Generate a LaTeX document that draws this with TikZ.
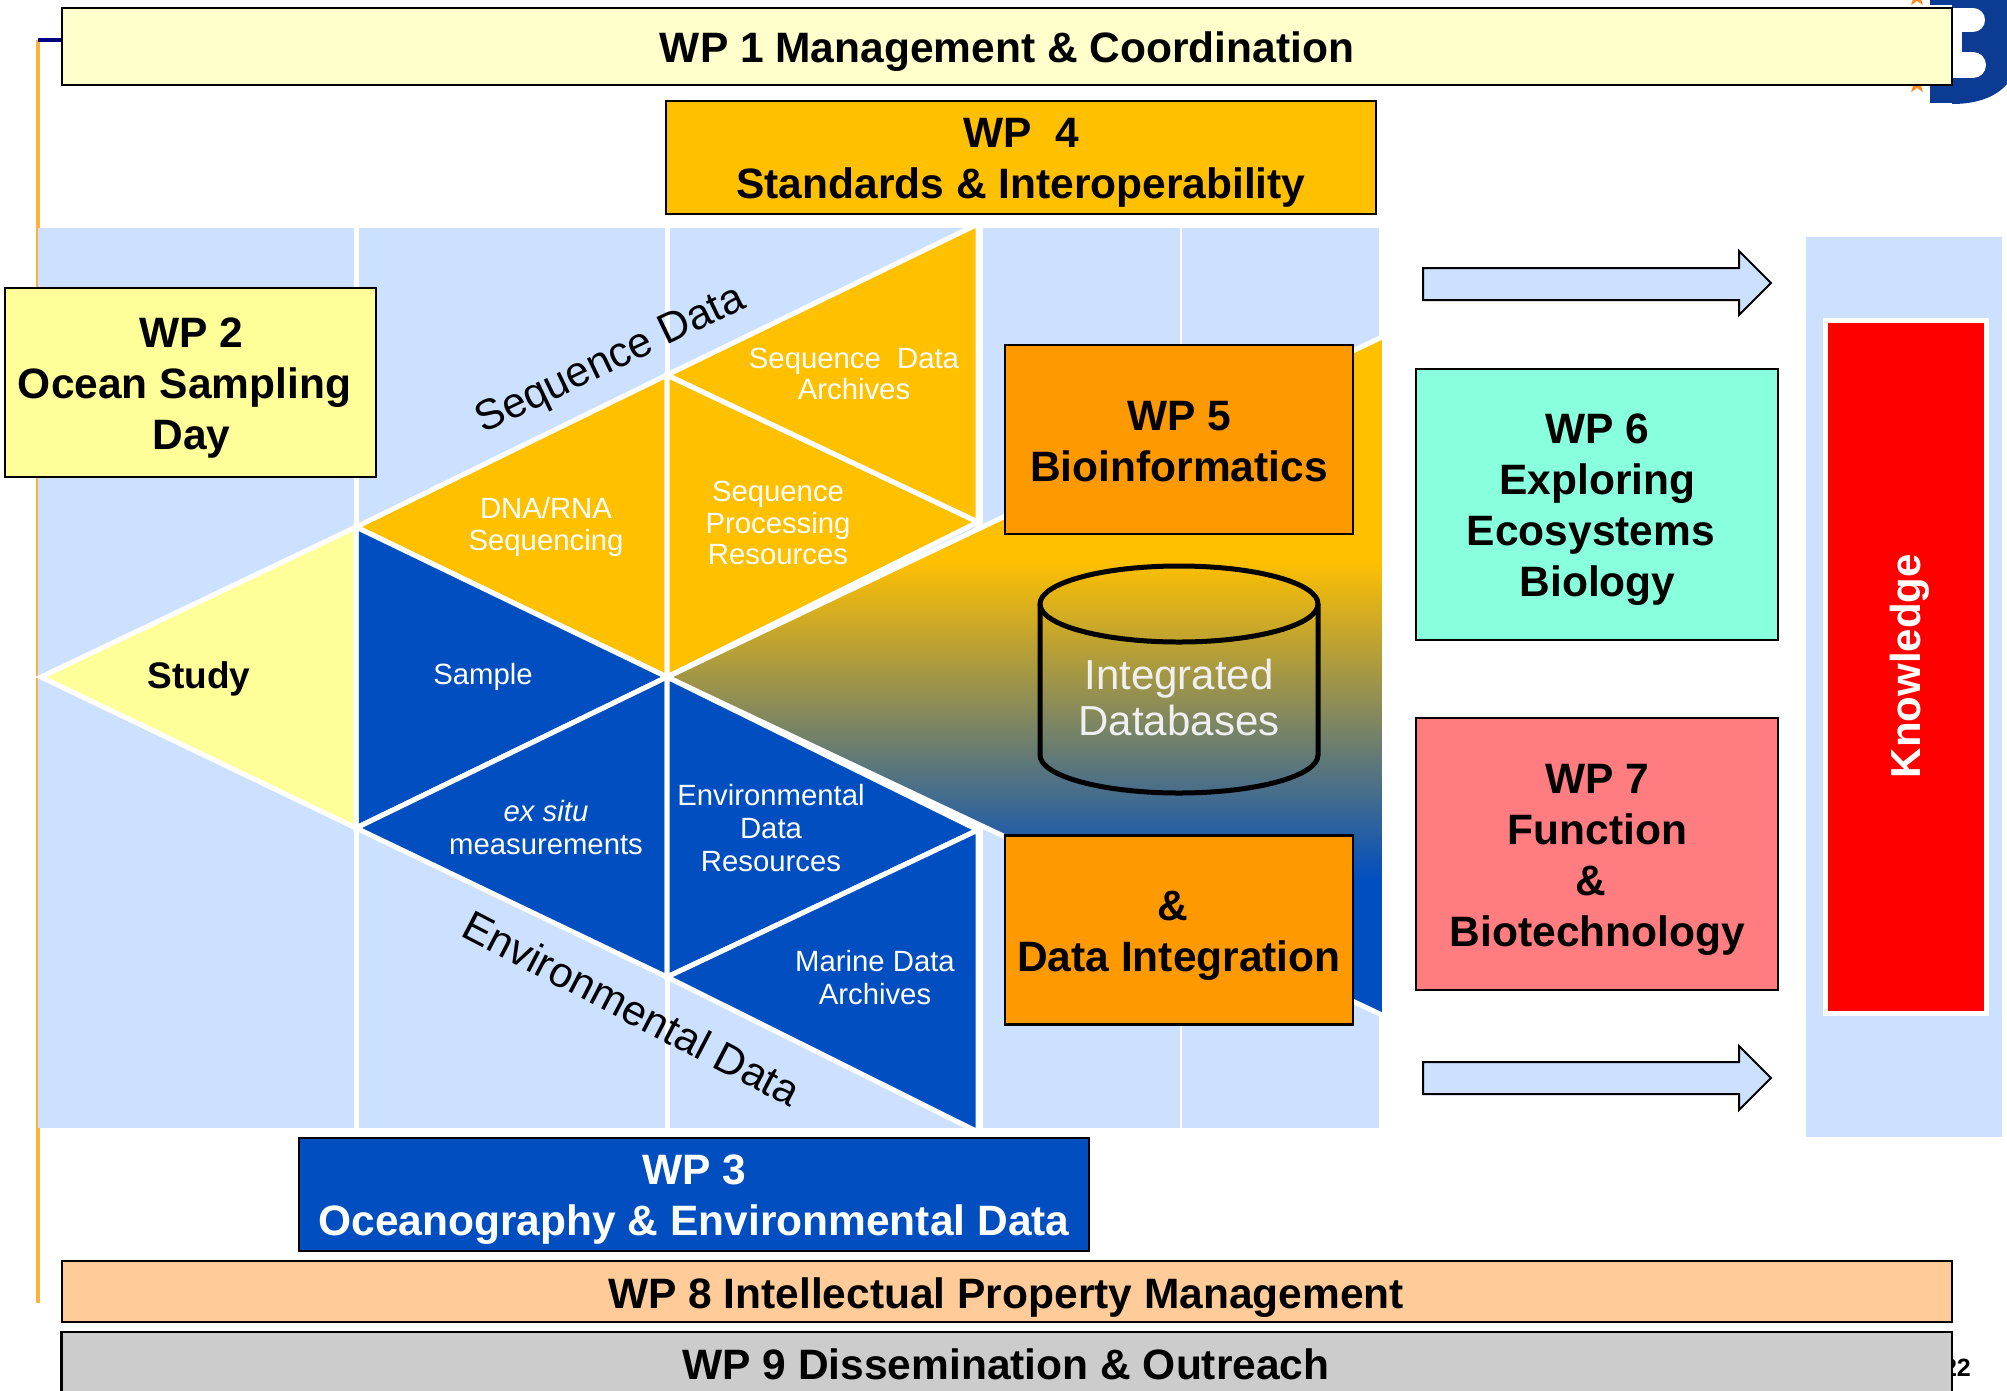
\documentclass[tikz,border=0pt]{standalone}
\usepackage{fontspec}
\setmainfont{Liberation Sans}
\definecolor{bgblue}{HTML}{CCE0FF}
\definecolor{wpyellow}{HTML}{FFFF99}
\definecolor{wppale}{HTML}{FFFFCC}
\definecolor{wpgold}{HTML}{FFC000}
\definecolor{wporange}{HTML}{FF9900}
\definecolor{wpteal}{HTML}{88FFDD}
\definecolor{wppink}{HTML}{FF7C80}
\definecolor{wppeach}{HTML}{FFCC99}
\definecolor{wpgrey}{HTML}{CCCCCC}
\definecolor{wpblue}{HTML}{004EC0}
\definecolor{logoblue}{HTML}{0B3B92}
\definecolor{linegold}{HTML}{FBB040}
\definecolor{navyline}{HTML}{000080}
\definecolor{staror}{HTML}{FF8A1E}
\tikzset{
  wpbox/.style={draw=black,line width=2.5pt,inner sep=0pt},
  wptext/.style={inner sep=0pt,align=center,font=\fontsize{42.5}{51}\selectfont\bfseries},
  tri/.style={draw=white,line width=5pt,line join=miter},
  tlabel/.style={inner sep=0pt,align=center,text=white,font=\fontsize{29.3}{31.5}\selectfont},
  sidelabel/.style={inner sep=0pt,align=center,font=\fontsize{42.5}{49}\selectfont},
  blockarrow/.style={draw=black,line width=2pt,fill=bgblue,line join=miter},
  logostar/.pic={\fill[staror] (0,-10) -- (2.4,-3.2) -- (9.5,-3.1) -- (3.8,1.2) -- (5.9,8.1) -- (0,4) -- (-5.9,8.1) -- (-3.8,1.2) -- (-9.5,-3.1) -- (-2.4,-3.2) -- cycle;},
}
\begin{document}
\begin{tikzpicture}[x=1pt,y=-1pt]
\useasboundingbox (0,0) rectangle (2007,1390);
\clip (0,0) rectangle (2007,1390);
% logo behind the boxes
\fill[logoblue] (1930,0) rectangle (2007,5);
\fill[logoblue] (1930,85) rectangle (1952,103);
\fill[logoblue] (1952,0) -- (2007,0) -- (2007,84) .. controls (1995,98) and (1975,104) .. (1952,104) -- cycle;
\draw[white,line width=24pt,line cap=round] (1958,20) -- (1973,20);
\draw[white,line width=26pt,line cap=round] (1958,65) -- (1973,65);
\fill[white] (1952,8) rectangle (1962,78);
\pic at (1917,-3) {logostar};
\pic at (1917,84) {logostar};
\node[inner sep=0pt,anchor=east,font=\fontsize{25}{30}\selectfont\bfseries] (pagenum) at (1971,1368) {22};
% rule lines
\fill[linegold] (36,40) rectangle (40,1303);
\fill[navyline] (38,38) rectangle (61,42);
% background columns
\fill[bgblue] (38,228) rectangle (1379,1128);
\fill[white] (353.5,220) rectangle (358.5,1135);
\fill[white] (664.5,220) rectangle (669.5,1135);
\fill[white] (975,220) rectangle (983,1135);
\fill[white] (1180,220) rectangle (1182,1135);
\fill[white] (1379,220) rectangle (1390,1135);
% gradient band
\begin{scope}
\clip (667,677) -- (1382,337) -- (1382,1015) -- cycle;
\fill[wpgold] (660,330) rectangle (1382,561);
\shade[top color=wpgold,bottom color=wpblue,shading angle=0] (660,560) rectangle (1382,880);
\fill[wpblue] (660,879) rectangle (1382,1020);
\end{scope}
\draw[white,line width=5pt] (667,677) -- (1382,337);
\draw[white,line width=5pt] (667,677) -- (1382,1015);
\fill[white] (1382,330) rectangle (1395,1025);
% triangles
\filldraw[tri,fill=wpgold] (356,527) -- (667,375) -- (667,677) -- cycle;
\filldraw[tri,fill=wpgold] (667,375) -- (978,522) -- (667,677) -- cycle;
\filldraw[tri,fill=wpgold] (667,375) -- (978,224) -- (978,522) -- cycle;
\filldraw[tri,fill=wpblue] (356,527) -- (667,677) -- (356,828) -- cycle;
\filldraw[tri,fill=wpblue] (356,828) -- (667,677) -- (667,977) -- cycle;
\filldraw[tri,fill=wpblue] (667,677) -- (978,830) -- (667,977) -- cycle;
\filldraw[tri,fill=wpblue] (667,977) -- (978,830) -- (978,1132) -- cycle;
\filldraw[tri,fill=wpyellow] (41,677) -- (356,527) -- (356,828) -- cycle;
% triangle labels
\node[inner sep=0pt,font=\fontsize{37}{44}\selectfont\bfseries] (study) at (199,679) {Study};
\node[tlabel] (dna) at (546,527) {DNA/RNA\\Sequencing};
\node[tlabel] (proc) at (778,523) {Sequence\\Processing\\Resources};
\node[tlabel] (arch) at (854,374) {Sequence\ \ Data\\Archives};
\node[tlabel] (sample) at (483,677) {Sample};
\node[tlabel,font=\fontsize{29.3}{33}\selectfont] (exsitu) at (546,828) {\itshape ex situ\\measurements};
\node[tlabel,font=\fontsize{29.3}{33}\selectfont] (env) at (771,828) {Environmental\\Data\\Resources};
\node[tlabel,font=\fontsize{29.3}{33}\selectfont] (marine) at (875,978) {Marine Data\\Archives};
\node[sidelabel,rotate=25.7] (seqdata) at (611,361) {Sequence Data};
\node[sidelabel,rotate=-27.5] (envdata) at (632,1008) {Environmental Data};
% cylinder
\draw[black,line width=5pt] (1040,604) -- (1040,755) arc[start angle=180,end angle=360,x radius=139,y radius=-38] -- (1318,604);
\draw[black,line width=5pt] (1179,604) ellipse[x radius=139,y radius=38];
\node[inner sep=0pt,align=center,text=white!94!black,font=\fontsize{42}{46}\selectfont] (intdb) at (1179,697) {Integrated\\Databases};
% boxes
\node[wpbox,fill=wppale,minimum width=1890pt,minimum height=77pt] (wp1) at (1007,46.5) {};
\node[wptext] (wp1t) at ([yshift=-5pt]wp1.center) {WP 1 Management \& Coordination};
\node[wpbox,fill=wpgold,minimum width=710pt,minimum height=113pt] (wp4) at (1021,157.5) {};
\node[wptext] (wp4t) at ([xshift=0pt,yshift=-5pt]wp4.center) {WP\ \ 4\\Standards \& Interoperability};
\node[wpbox,fill=wpyellow,minimum width=371pt,minimum height=189pt] (wp2) at (190.5,382.5) {};
\node[wptext] (wp2t) at ([xshift=1pt,yshift=-6pt]wp2.center) {WP 2\\Ocean Sampling\kern14pt\\Day};
\node[wpbox,fill=wporange,minimum width=348pt,minimum height=189pt] (wp5) at (1179,439.5) {};
\node[wptext] (wp5t) at ([xshift=0pt,yshift=-2.5pt]wp5.center) {WP 5\\Bioinformatics};
\node[wpbox,fill=wporange,minimum width=348pt,minimum height=189pt] (wpdi) at (1179,930) {};
\node[wptext] (wpdit) at ([xshift=0pt,yshift=-6pt]wpdi.center) {\&\kern13pt\\Data Integration};
\node[wpbox,fill=wpteal,minimum width=362pt,minimum height=271pt] (wp6) at (1597,504.5) {};
\node[wptext] (wp6t) at ([xshift=0.5pt,yshift=-5.5pt]wp6.center) {WP 6\\Exploring\\Ecosystems\kern13pt\\Biology};
\node[wpbox,fill=wppink,minimum width=362pt,minimum height=272pt] (wp7) at (1597,854) {};
\node[wptext] (wp7t) at ([xshift=0.5pt,yshift=-6pt]wp7.center) {WP 7\\Function\\\&\kern13pt\\Biotechnology};
\node[wpbox,fill=wpblue,minimum width=790pt,minimum height=113pt] (wp3) at (694,1194.5) {};
\node[wptext,text=white] (wp3t) at ([yshift=-5pt]wp3.center) {WP 3\\Oceanography \& Environmental\ Data};
\node[wpbox,fill=wppeach,minimum width=1890pt,minimum height=61pt] (wp8) at (1007,1291.5) {};
\node[wptext] (wp8t) at ([xshift=-1pt,yshift=-6pt]wp8.center) {WP 8 Intellectual Property Management};
\draw[black,line width=2.5pt,fill=wpgrey] (61.5,1332) rectangle (1952,1420);
\node[wptext] (wp9) at (1006,1364) {WP 9 Dissemination \& Outreach};
% knowledge
\fill[bgblue] (1806,237) rectangle (2002,1137);
\node[draw=white,line width=5pt,fill=red,minimum width=161pt,minimum height=693pt,inner sep=0pt] (knowbox) at (1905.5,667) {};
\node[rotate=90,text=white,inner sep=0pt,font=\fontsize{42}{50}\selectfont\bfseries] (knowledge) at (1910,666) {Knowledge};
% block arrows
\draw[blockarrow] (1423,268) -- (1739,268) -- (1739,251) -- (1771,283) -- (1739,315) -- (1739,300) -- (1423,300) -- cycle;
\draw[blockarrow] (1423,1062) -- (1739,1062) -- (1739,1046) -- (1771,1078) -- (1739,1110) -- (1739,1094) -- (1423,1094) -- cycle;
\end{tikzpicture}
\end{document}
